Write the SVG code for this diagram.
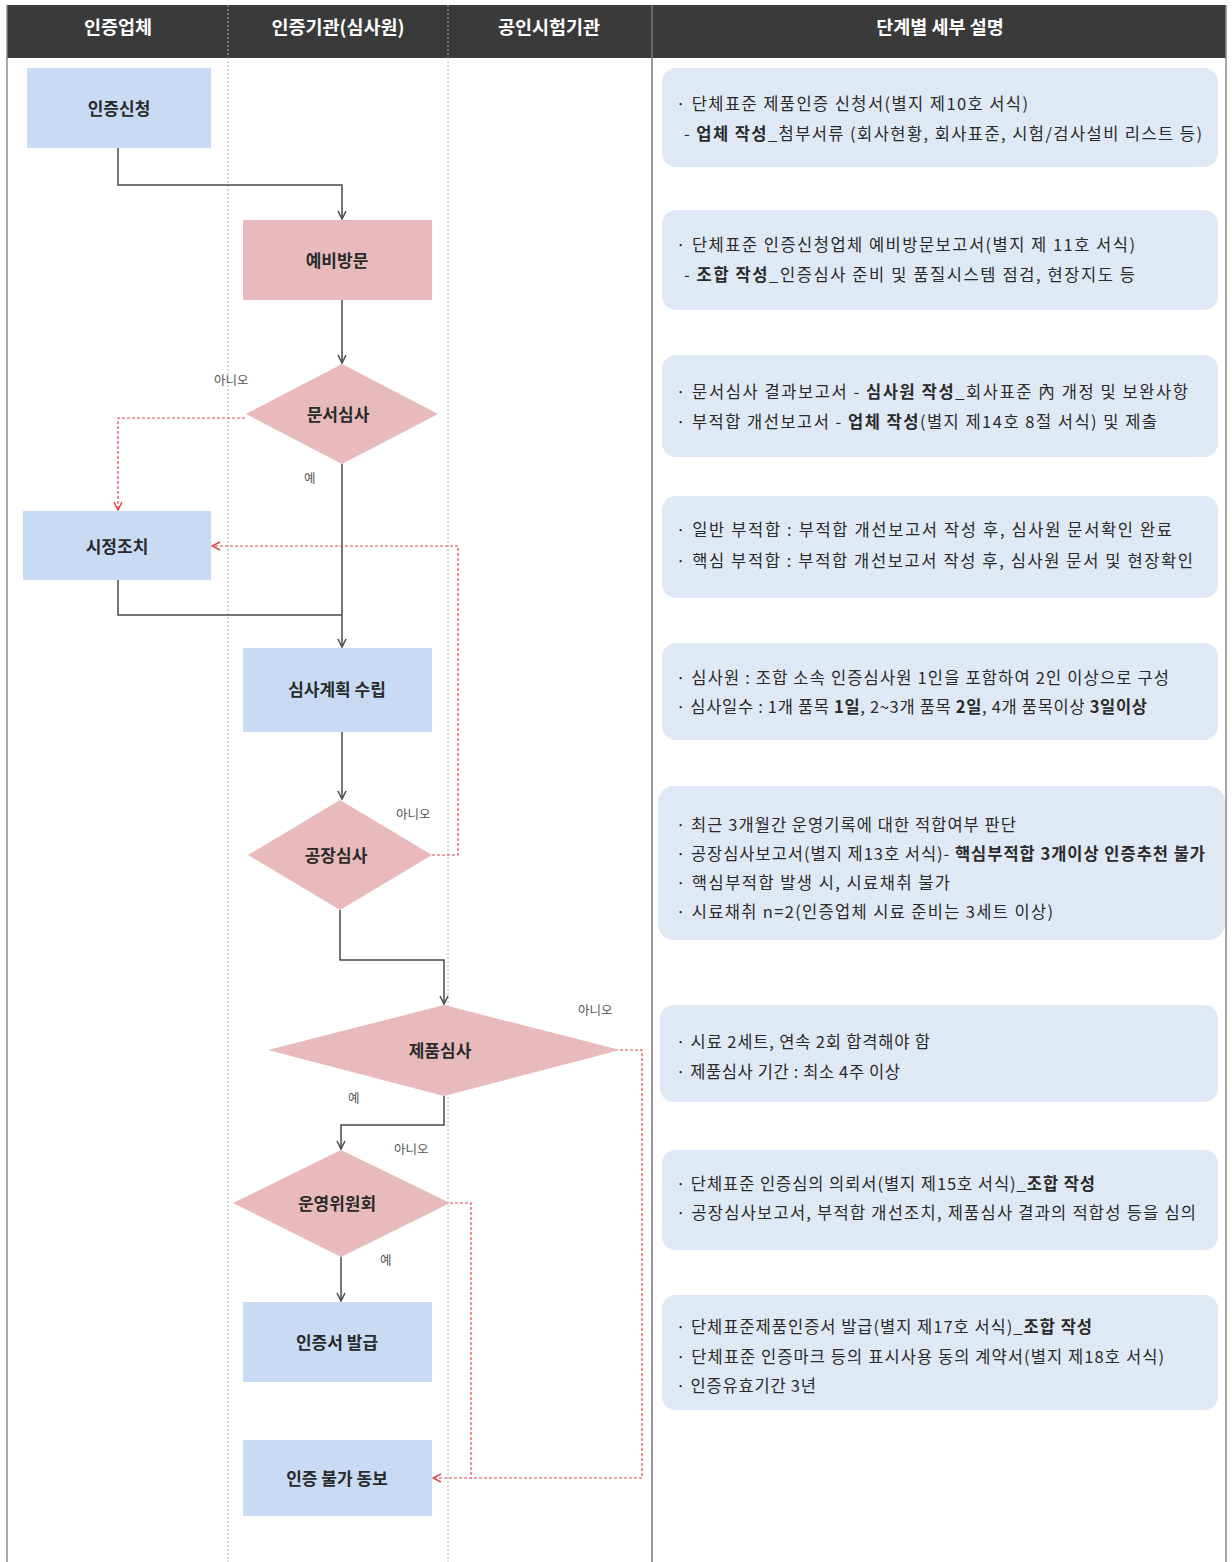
<svg xmlns="http://www.w3.org/2000/svg" width="1232" height="1562" viewBox="0 0 1232 1562">
<style>
text{font-family:"Noto Sans CJK KR","Noto Sans",sans-serif;}
.hdr{fill:#ffffff;font-size:18.5px;font-weight:bold;text-anchor:middle;}
.lbl{fill:#2a2a2a;font-size:17px;font-weight:bold;text-anchor:middle;}
.yn{fill:#555555;font-size:12.5px;}
.desc{fill:#2a2a2a;font-size:16.5px;}
.b{font-weight:bold;}
.blue{fill:#c9dbf4;}
.pink{fill:#e8babb;}
.panel{fill:#dfe9f6;}
.solid{fill:none;stroke:#4a4a4a;stroke-width:1.5;}
.dash{fill:none;stroke:#e0474c;stroke-width:1.2;stroke-dasharray:3 2;}
.lane{stroke:#aaaaaa;stroke-width:1;stroke-dasharray:2 2;}
</style>
<defs>
<marker id="ah" viewBox="0 0 10 10" refX="9" refY="5" markerWidth="10" markerHeight="10" markerUnits="userSpaceOnUse" orient="auto">
<path d="M1,1 L9,5 L1,9" fill="none" stroke="#4a4a4a" stroke-width="1.5"/>
</marker>
<marker id="ahr" viewBox="0 0 10 10" refX="9" refY="5" markerWidth="10" markerHeight="10" markerUnits="userSpaceOnUse" orient="auto">
<path d="M1,1 L9,5 L1,9" fill="none" stroke="#e0474c" stroke-width="1.5"/>
</marker>
</defs>
<rect width="1232" height="1562" fill="#ffffff"/>
<g id="frame">
<rect x="7" y="5" width="1219" height="53" fill="#3a3a3a"/>
<line x1="7" y1="5" x2="7" y2="1562" stroke="#888888" stroke-width="1.5"/>
<line x1="1226" y1="5" x2="1226" y2="1562" stroke="#888888" stroke-width="1.5"/>
<line x1="652" y1="5" x2="652" y2="1562" stroke="#777777" stroke-width="1.5"/>
<line class="lane" x1="228" y1="5" x2="228" y2="1562"/>
<line class="lane" x1="448" y1="5" x2="448" y2="1562"/>
<text class="hdr" x="118" y="34">인증업체</text>
<text class="hdr" x="338" y="34">인증기관(심사원)</text>
<text class="hdr" x="549" y="34">공인시험기관</text>
<text class="hdr" x="940" y="34">단계별 세부 설명</text>
</g>
<g id="connectors">
<path class="solid" d="M118,148 V185 H342 V219" marker-end="url(#ah)"/>
<path class="solid" d="M342,300 V363" marker-end="url(#ah)"/>
<path class="dash" d="M245,418 H118 V510" marker-end="url(#ahr)"/>
<path class="solid" d="M342,464 V647" marker-end="url(#ah)"/>
<path class="solid" d="M118,580 V615 H342"/>
<path class="dash" d="M432,855 H458 V546 H212" marker-end="url(#ahr)"/>
<path class="solid" d="M342,732 V799" marker-end="url(#ah)"/>
<path class="solid" d="M340,910 V960 H444 V1004" marker-end="url(#ah)"/>
<path class="dash" d="M620,1050 H642 V1478 H433" marker-end="url(#ahr)"/>
<path class="solid" d="M444,1096 V1125 H341 V1149" marker-end="url(#ah)"/>
<path class="dash" d="M450,1203 H471 V1478"/>
<path class="solid" d="M341,1257 V1301" marker-end="url(#ah)"/>
<text class="yn" x="214" y="385">아니오</text>
<text class="yn" x="304" y="483">예</text>
<text class="yn" x="396" y="819">아니오</text>
<text class="yn" x="304" y="891">예</text>
<text class="yn" x="578" y="1015">아니오</text>
<text class="yn" x="348" y="1103">예</text>
<text class="yn" x="394" y="1154">아니오</text>
<text class="yn" x="380" y="1265">예</text>
</g>
<g id="n-apply"><rect class="blue" x="27" y="68" width="184" height="80"/><text class="lbl" x="119" y="115">인증신청</text></g>
<g id="n-previsit"><rect class="pink" x="243" y="220" width="189" height="80"/><text class="lbl" x="337" y="267">예비방문</text></g>
<g id="n-docreview"><polygon class="pink" points="342,364 438,414 342,464 246,414"/><text class="lbl" x="338" y="421">문서심사</text></g>
<g id="n-correct"><rect class="blue" x="23" y="511" width="188" height="69"/><text class="lbl" x="117" y="553">시정조치</text></g>
<g id="n-plan"><rect class="blue" x="243" y="648" width="189" height="84"/><text class="lbl" x="337" y="696">심사계획 수립</text></g>
<g id="n-factory"><polygon class="pink" points="340,800 432,855 340,910 248,855"/><text class="lbl" x="336" y="862">공장심사</text></g>
<g id="n-product"><polygon class="pink" points="444,1005 620,1050 444,1096 268,1050"/><text class="lbl" x="440" y="1057">제품심사</text></g>
<g id="n-committee"><polygon class="pink" points="341,1150 450,1203 341,1257 233,1203"/><text class="lbl" x="337" y="1210">운영위원회</text></g>
<g id="n-issue"><rect class="blue" x="243" y="1302" width="189" height="80"/><text class="lbl" x="337" y="1349">인증서 발급</text></g>
<g id="n-reject"><rect class="blue" x="243" y="1440" width="189" height="76"/><text class="lbl" x="337" y="1485">인증 불가 동보</text></g>
<g id="p1"><rect class="panel" x="662" y="68" width="556" height="99" rx="14"/>
<text class="desc" x="676" y="110" textLength="352" lengthAdjust="spacing">· 단체표준 제품인증 신청서(별지 제10호 서식)</text>
<text class="desc" x="684" y="140" textLength="518" lengthAdjust="spacing">- <tspan class="b">업체 작성</tspan>_첨부서류 (회사현황, 회사표준, 시험/검사설비 리스트 등)</text></g>
<g id="p2"><rect class="panel" x="662" y="210" width="556" height="100" rx="14"/>
<text class="desc" x="676" y="251" textLength="459" lengthAdjust="spacing">· 단체표준 인증신청업체 예비방문보고서(별지 제 11호 서식)</text>
<text class="desc" x="684" y="281" textLength="451" lengthAdjust="spacing">- <tspan class="b">조합 작성</tspan>_인증심사 준비 및 품질시스템 점검, 현장지도 등</text></g>
<g id="p3"><rect class="panel" x="662" y="355" width="556" height="102" rx="14"/>
<text class="desc" x="676" y="398" textLength="512" lengthAdjust="spacing">· 문서심사 결과보고서 - <tspan class="b">심사원 작성</tspan>_회사표준 內 개정 및 보완사항</text>
<text class="desc" x="676" y="428" textLength="481" lengthAdjust="spacing">· 부적합 개선보고서 - <tspan class="b">업체 작성</tspan>(별지 제14호 8절 서식) 및 제출</text></g>
<g id="p4"><rect class="panel" x="662" y="496" width="556" height="102" rx="14"/>
<text class="desc" x="676" y="536" textLength="496" lengthAdjust="spacing">· 일반 부적합 : 부적합 개선보고서 작성 후, 심사원 문서확인 완료</text>
<text class="desc" x="676" y="567" textLength="517" lengthAdjust="spacing">· 핵심 부적합 : 부적합 개선보고서 작성 후, 심사원 문서 및 현장확인</text></g>
<g id="p5"><rect class="panel" x="662" y="643" width="556" height="97" rx="14"/>
<text class="desc" x="676" y="684" textLength="493" lengthAdjust="spacing">· 심사원 : 조합 소속 인증심사원 1인을 포함하여 2인 이상으로 구성</text>
<text class="desc" x="676" y="713" textLength="471" lengthAdjust="spacing">· 심사일수 : 1개 품목 <tspan class="b">1일</tspan>, 2~3개 품목 <tspan class="b">2일</tspan>, 4개 품목이상 <tspan class="b">3일이상</tspan></text></g>
<g id="p6"><rect class="panel" x="658" y="786" width="567" height="154" rx="16"/>
<text class="desc" x="676" y="831" textLength="340" lengthAdjust="spacing">· 최근 3개월간 운영기록에 대한 적합여부 판단</text>
<text class="desc" x="676" y="860" textLength="529" lengthAdjust="spacing">· 공장심사보고서(별지 제13호 서식)- <tspan class="b">핵심부적합 3개이상 인증추천 불가</tspan></text>
<text class="desc" x="676" y="889" textLength="274" lengthAdjust="spacing">· 핵심부적합  발생 시, 시료채취 불가</text>
<text class="desc" x="676" y="918" textLength="377" lengthAdjust="spacing">· 시료채취 n=2(인증업체 시료 준비는 3세트 이상)</text></g>
<g id="p7"><rect class="panel" x="660" y="1005" width="558" height="97" rx="14"/>
<text class="desc" x="676" y="1048" textLength="254" lengthAdjust="spacing">· 시료 2세트,  연속 2회 합격해야 함</text>
<text class="desc" x="676" y="1078" textLength="224" lengthAdjust="spacing">· 제품심사 기간 : 최소 4주 이상</text></g>
<g id="p8"><rect class="panel" x="662" y="1150" width="556" height="100" rx="14"/>
<text class="desc" x="676" y="1190" textLength="419" lengthAdjust="spacing">· 단체표준 인증심의 의뢰서(별지 제15호 서식)_<tspan class="b">조합 작성</tspan></text>
<text class="desc" x="676" y="1219" textLength="520" lengthAdjust="spacing">· 공장심사보고서, 부적합 개선조치, 제품심사 결과의 적합성 등을 심의</text></g>
<g id="p9"><rect class="panel" x="662" y="1295" width="556" height="115" rx="14"/>
<text class="desc" x="676" y="1333" textLength="416" lengthAdjust="spacing">· 단체표준제품인증서 발급(별지 제17호 서식)_<tspan class="b">조합 작성</tspan></text>
<text class="desc" x="676" y="1363" textLength="488" lengthAdjust="spacing">· 단체표준 인증마크 등의 표시사용 동의 계약서(별지 제18호 서식)</text>
<text class="desc" x="676" y="1392" textLength="140" lengthAdjust="spacing">· 인증유효기간 3년</text></g>
</svg>
